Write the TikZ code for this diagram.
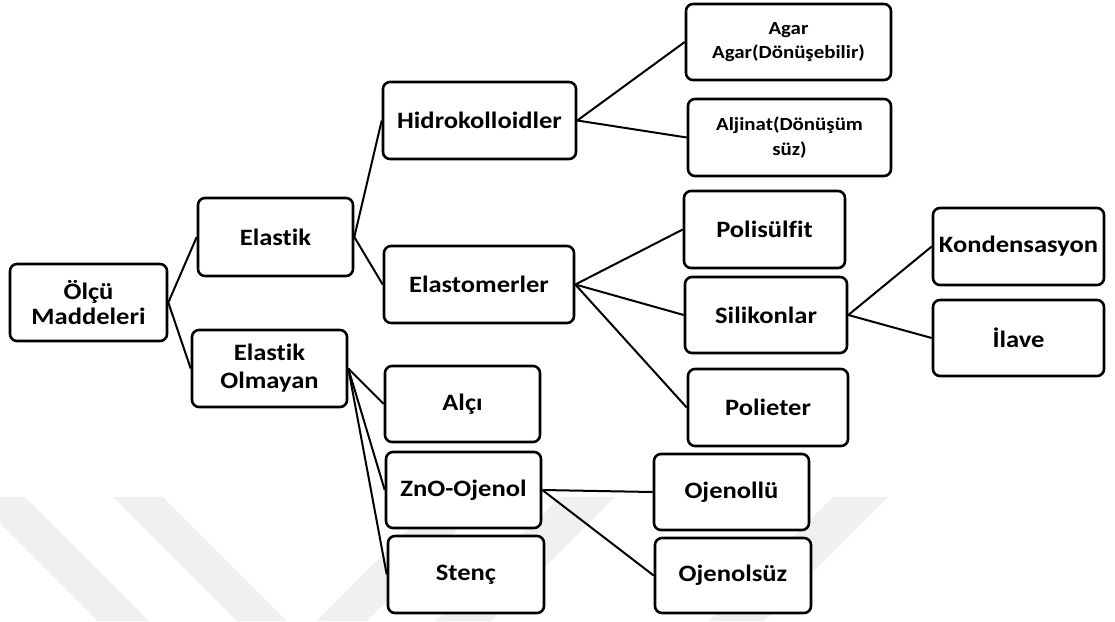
\documentclass[tikz,border=0pt]{standalone}
\usepackage{fontspec}
\setmainfont{Carlito}[FakeStretch=1.13, Ligatures={NoCommon}]
\begin{document}
\begin{tikzpicture}[x=1pt,y=-1pt,
  box/.style={draw=black, line width=2.6pt, rounded corners=7pt, fill=white,
    align=center, inner sep=0pt, font=\bfseries\fontsize{23.5}{25}\selectfont},
  small/.style={font=\bfseries\fontsize{18.5}{24}\selectfont},
  link/.style={draw=black, line width=2pt},
  wm/.style={fill=black!6, draw=none}]
\useasboundingbox (0,0) rectangle (1115,621);
% faint background watermark
\fill[wm] (-26,497) -- (25,497) -- (149,621) -- (98,621) -- cycle;
\fill[wm] (113,497) -- (163,497) -- (287,621) -- (237,621) -- cycle;
\fill[wm] (317,621) -- (440,497) -- (490,497) -- (367,621) -- cycle;
\fill[wm] (560,497) -- (615,497) -- (491,621) -- (436,621) -- cycle;
\fill[wm] (833,497) -- (888,497) -- (764,621) -- (709,621) -- cycle;
% nodes
\node[box, minimum width=157pt, minimum height=77pt] (olcu) at (88.5,302.5) {Ölçü\\Maddeleri};
\node[box, minimum width=155pt, minimum height=78pt] (elastik) at (275.5,237) {Elastik};
\node[box, minimum width=155pt, minimum height=77pt, font=\bfseries\fontsize{23.5}{28}\selectfont] (olmayan) at (269.5,368.5) {Elastik\\Olmayan};
\node[box, minimum width=193pt, minimum height=77pt] (hidro) at (479.5,120.5) {Hidrokolloidler};
\node[box, minimum width=190pt, minimum height=77pt] (elasto) at (479,284.5) {Elastomerler};
\node[box, small, minimum width=205pt, minimum height=76pt] (agar) at (788.5,42) {Agar\\Agar(Dönüşebilir)};
\node[box, minimum width=203pt, minimum height=77pt, font=\bfseries\fontsize{18.5}{25}\selectfont] (aljinat) at (789.5,137.5) {Aljinat(Dönüşüm\\süz)};
\node[box, minimum width=161pt, minimum height=77pt] (polisulfit) at (764.5,229.5) {Polisülfit};
\node[box, minimum width=162pt, minimum height=76pt] (silikon) at (766,315) {Silikonlar};
\node[box, minimum width=160pt, minimum height=77pt] (polieter) at (768,407.5) {Polieter};
\node[box, minimum width=171pt, minimum height=77pt] (kondens) at (1018.5,246.5) {Kondensasyon};
\node[box, minimum width=171pt, minimum height=76pt] (ilave) at (1018.5,338) {İlave};
\node[box, minimum width=155pt, minimum height=76pt] (alci) at (462.5,404) {Alçı};
\node[box, minimum width=155pt, minimum height=76pt] (zno) at (463.5,490) {ZnO-Ojenol};
\node[box, minimum width=156pt, minimum height=77pt] (stenc) at (466,574.5) {Stenç};
\node[box, minimum width=155pt, minimum height=76pt] (ojenollu) at (731.5,492) {Ojenollü};
\node[box, minimum width=156pt, minimum height=75pt] (ojenolsuz) at (733,575.5) {Ojenolsüz};
% connectors
\draw[link] (olcu.east) -- (elastik.west);
\draw[link] (olcu.east) -- (olmayan.west);
\draw[link] (elastik.east) -- (hidro.west);
\draw[link] (elastik.east) -- (elasto.west);
\draw[link] (hidro.east) -- (agar.west);
\draw[link] (hidro.east) -- (aljinat.west);
\draw[link] (elasto.east) -- (polisulfit.west);
\draw[link] (elasto.east) -- (silikon.west);
\draw[link] (elasto.east) -- (polieter.west);
\draw[link] (silikon.east) -- (kondens.west);
\draw[link] (silikon.east) -- (ilave.west);
\draw[link] (olmayan.east) -- (alci.west);
\draw[link] (olmayan.east) -- (zno.west);
\draw[link] (olmayan.east) -- (stenc.west);
\draw[link] (zno.east) -- (ojenollu.west);
\draw[link] (zno.east) -- (ojenolsuz.west);
\end{tikzpicture}
\end{document}
